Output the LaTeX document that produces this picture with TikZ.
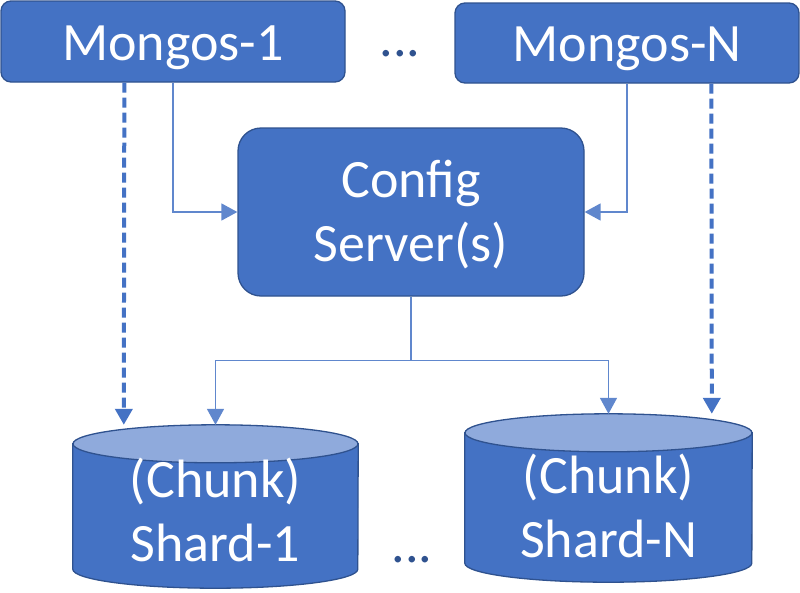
\documentclass[tikz,border=0pt]{standalone}
\usepackage{fontspec}
\setmainfont{Carlito}
\usetikzlibrary{positioning, arrows.meta, calc}

\definecolor{boxblue}{HTML}{4472C4}
\definecolor{edgeblue}{HTML}{2F528F}
\definecolor{topblue}{HTML}{8FAADC}

\pgfdeclarelayer{background}
\pgfsetlayers{background,main}

% cylinder drawn behind a shard node: #1 node, #2 x radius
\newcommand{\drum}[2]{%
  \filldraw[draw=edgeblue, fill=boxblue, line width=1.3pt]
    ($(#1.north west)+(0,19)$) -- ($(#1.south west)+(0,-19)$)
    arc[start angle=180, end angle=0, x radius=#2, y radius=19]
    -- ($(#1.north east)+(0,19)$) -- cycle;
  \filldraw[draw=edgeblue, fill=topblue, line width=1.3pt]
    ($(#1.north)+(0,19)$) ellipse[x radius=#2, y radius=19];
}

\begin{document}
\begin{tikzpicture}[x=1pt, y=-1pt,
    box/.style={rectangle, draw=edgeblue, line width=1.3pt, fill=boxblue,
                rounded corners=10pt, text=white, inner sep=0pt,
                font=\fontsize{54}{64}\selectfont, align=center,
                text height=40pt, text depth=3pt},
    shardlabel/.style={rectangle, inner sep=0pt, text=white,
                font=\fontsize{54}{64}\selectfont, align=center},
    gap/.style={font=\fontsize{54}{64}\selectfont, text=edgeblue, inner sep=0pt},
    link/.style={draw=boxblue!85, line width=1.6pt,
                 -{Triangle[length=16pt, width=17pt]}},
    dlink/.style={draw=boxblue, line width=4pt, dash pattern=on 10pt off 5pt,
                  -{Triangle[length=16pt, width=17pt]}}
]
    \useasboundingbox (0,0) rectangle (800,592);

    % Routers
    \node[box, minimum width=344pt, minimum height=81pt] (m1) at (173, 41.5) {Mongos-1};
    \node[box, minimum width=344pt, minimum height=80pt] (mN) at (627, 43) {Mongos-N};
    \node[gap, anchor=base] (mdots) at (400, 56) {...};

    % Config
    \node[box, rounded corners=23pt, minimum width=346pt, minimum height=168pt,
          text height=110pt, text depth=12pt] (config) at (411, 212) {Config\\Server(s)};

    % Shards
    \node[shardlabel, minimum width=285pt, minimum height=163pt,
          text height=122pt, text depth=13pt] (shard1) at (215.5, 506.5) {(Chunk)\\Shard-1};
    \node[shardlabel, minimum width=287pt, minimum height=168pt,
          text height=130pt, text depth=12pt] (shardN) at (608.5, 498) {(Chunk)\\Shard-N};
    \node[gap, anchor=base] (sdots) at (412, 562) {...};
    \begin{pgfonlayer}{background}
        \drum{shard1}{142.5}
        \drum{shardN}{143.5}
    \end{pgfonlayer}

    % Metadata lookups
    \draw[link] (m1.south) |- (config.west);
    \draw[link] (mN.south) |- (config.east);
    \coordinate (fork) at ($(config.south)+(0,64)$);
    \draw[link] (config.south) -- (fork) -| (shard1.north);
    \draw[link] (fork) -| (shardN.north);

    % Routed queries
    \draw[dlink] ($(m1.south west)+(124,0)$) -- ($(shard1.north west)+(51,0)$);
    \draw[dlink] ($(mN.south west)+(257,0)$) -- ($(shardN.north west)+(247,0)$);

\end{tikzpicture}
\end{document}
